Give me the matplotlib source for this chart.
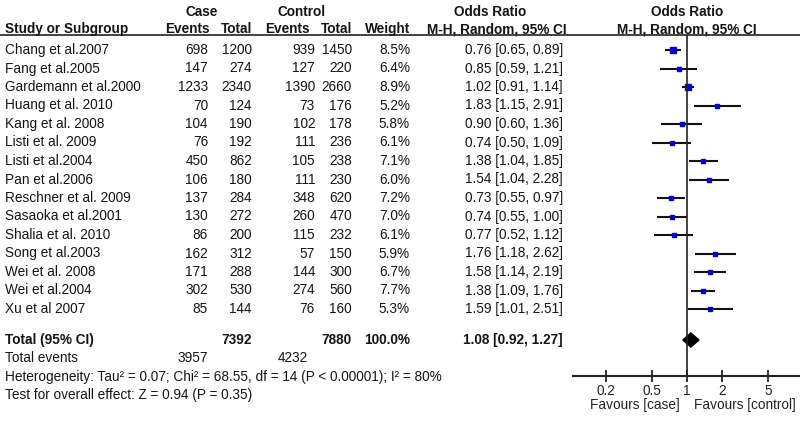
import numpy as np
import matplotlib.pyplot as plt
from matplotlib.patches import Polygon

plt.rcParams['font.family'] = ['Liberation Sans', 'DejaVu Sans']

studies = ["Chang et al.2007", "Fang et al.2005", "Gardemann et al.2000", "Huang et al. 2010",
           "Kang et al. 2008", "Listi et al. 2009", "Listi et al.2004", "Pan et al.2006",
           "Reschner et al. 2009", "Sasaoka et al.2001", "Shalia et al. 2010", "Song et al.2003",
           "Wei et al. 2008", "Wei et al.2004", "Xu et al 2007"]
case_events = [698, 147, 1233, 70, 104, 76, 450, 106, 137, 130, 86, 162, 171, 302, 85]
case_total = [1200, 274, 2340, 124, 190, 192, 862, 180, 284, 272, 200, 312, 288, 530, 144]
ctrl_events = [939, 127, 1390, 73, 102, 111, 105, 111, 348, 260, 115, 57, 144, 274, 76]
ctrl_total = [1450, 220, 2660, 176, 178, 236, 238, 230, 620, 470, 232, 150, 300, 560, 160]
weight = [8.5, 6.4, 8.9, 5.2, 5.8, 6.1, 7.1, 6.0, 7.2, 7.0, 6.1, 5.9, 6.7, 7.7, 5.3]
odds = [0.76, 0.85, 1.02, 1.83, 0.90, 0.74, 1.38, 1.54, 0.73, 0.74, 0.77, 1.76, 1.58, 1.38, 1.59]
ci_lo = [0.65, 0.59, 0.91, 1.15, 0.60, 0.50, 1.04, 1.04, 0.55, 0.55, 0.52, 1.18, 1.14, 1.09, 1.01]
ci_hi = [0.89, 1.21, 1.14, 2.91, 1.36, 1.09, 1.85, 2.28, 0.97, 1.00, 1.12, 2.62, 2.19, 1.76, 2.51]

total_case, total_ctrl = 7392, 7880
total_weight = 100.0
events_case, events_ctrl = 3957, 4232
pooled, pooled_lo, pooled_hi = 1.08, 0.92, 1.27
heterogeneity = "Heterogeneity: Tau² = 0.07; Chi² = 68.55, df = 14 (P < 0.00001); I² = 80%"
overall = "Test for overall effect: Z = 0.94 (P = 0.35)"
ticks = [0.2, 0.5, 1, 2, 5]

W, H = 800, 421
fig = plt.figure(figsize=(W / 100, H / 100), dpi=100)

# table layer in pixel coordinates
tab = fig.add_axes([0, 0, 1, 1])
tab.set_xlim(0, W)
tab.set_ylim(H, 0)
tab.axis('off')

fs = 9.85
txt = '#151515'
row0, step = 50, 18.5
total_y = 340

def put(x, y, s, ha='right', bold=False):
    tab.text(x, y, s, ha=ha, va='center', fontsize=fs, color=txt,
             fontweight='bold' if bold else 'normal')

put(202, 12, "Case", 'center', True)
put(302, 12, "Control", 'center', True)
put(490, 12, "Odds Ratio", 'center', True)
put(687, 12, "Odds Ratio", 'center', True)
put(5, 29, "Study or Subgroup", 'left', True)
put(210, 29, "Events", bold=True)
put(252, 29, "Total", bold=True)
put(310, 29, "Events", bold=True)
put(352, 29, "Total", bold=True)
put(410, 29, "Weight", bold=True)
put(497, 29, "M-H, Random, 95% CI", 'center', True)
put(687, 29, "M-H, Random, 95% CI", 'center', True)
tab.axhline(34.5, color='#333333', lw=1.3)

for i, name in enumerate(studies):
    y = row0 + step * i
    put(5, y, name, 'left')
    put(208, y, str(case_events[i]))
    put(252, y, str(case_total[i]))
    put(315, y, str(ctrl_events[i]))
    put(352, y, str(ctrl_total[i]))
    put(410, y, f"{weight[i]:.1f}%")
    put(563, y, f"{odds[i]:.2f} [{ci_lo[i]:.2f}, {ci_hi[i]:.2f}]")

put(5, total_y, "Total (95% CI)", 'left', True)
put(252, total_y, str(total_case), bold=True)
put(352, total_y, str(total_ctrl), bold=True)
put(410, total_y, f"{total_weight:.1f}%", bold=True)
put(563, total_y, f"{pooled:.2f} [{pooled_lo:.2f}, {pooled_hi:.2f}]", bold=True)
put(5, 358, "Total events", 'left')
put(208, 358, str(events_case))
put(308, 358, str(events_ctrl))
put(5, 377, heterogeneity, 'left')
put(5, 395, overall, 'left')

# forest panel
ax_left, ax_right, ax_top, ax_bot = 573, 800, 35, 376
x_one, per_dec = 687, 116
ax = fig.add_axes([ax_left / W, 1 - ax_bot / H, (ax_right - ax_left) / W, (ax_bot - ax_top) / H])
ax.set_xscale('log')
ax.set_xlim(10 ** ((ax_left - x_one) / per_dec), 10 ** ((ax_right - x_one) / per_dec))
ax.set_ylim((ax_bot - row0) / step, (ax_top - row0) / step)
ax.patch.set_alpha(0)
for s in ['top', 'right', 'left']:
    ax.spines[s].set_visible(False)
ax.spines['bottom'].set_linewidth(1.5)
ax.spines['bottom'].set_color('#222222')

ypos = np.arange(len(studies))
ax.hlines(ypos, ci_lo, ci_hi, color='#111111', lw=1.5)
for i in range(len(studies)):
    ax.plot(odds[i], ypos[i], 's', color='#0000cc', ms=1.8 + weight[i] * 0.22, mec='#0000cc')
ax.axvline(1, color='#222222', lw=1.2)

ty = (total_y - row0) / step
dh = 7 / step
ax.add_patch(Polygon([[pooled_lo, ty], [pooled, ty - dh], [pooled_hi, ty], [pooled, ty + dh]],
                     closed=True, color='black'))

ax.set_xticks(ticks)
ax.set_xticklabels([str(t) for t in ticks])
ax.xaxis.set_minor_locator(plt.NullLocator())
ax.tick_params(axis='x', direction='inout', length=8, width=1.3, labelsize=fs,
               labelcolor='#222222', pad=2, color='#222222')
ax.set_yticks([])

ax.text(10 ** (-7 / per_dec), -0.085, "Favours [case]", transform=ax.get_xaxis_transform(),
        ha='right', va='center', fontsize=fs, color='#222222')
ax.text(10 ** (7 / per_dec), -0.085, "Favours [control]", transform=ax.get_xaxis_transform(),
        ha='left', va='center', fontsize=fs, color='#222222')

fig.savefig('out.png', dpi=100)
